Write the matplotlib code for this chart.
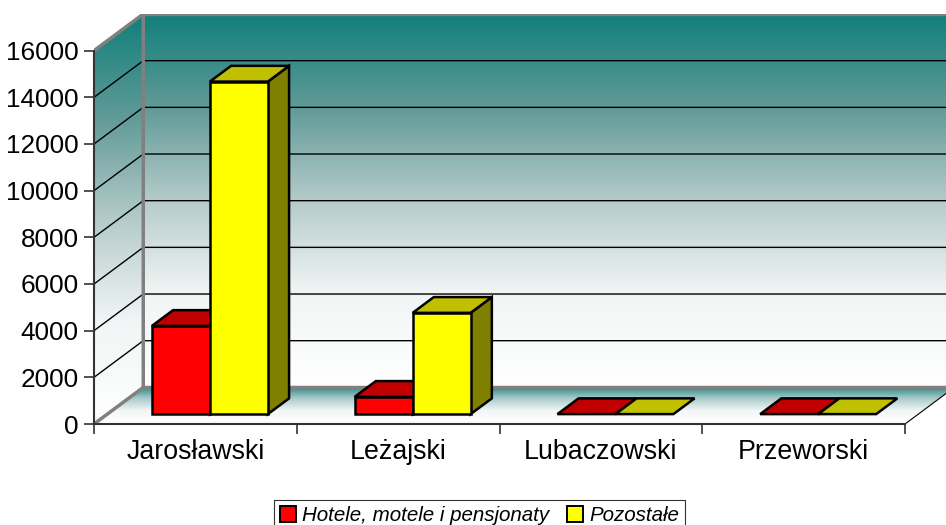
import matplotlib.pyplot as plt
import numpy as np
from matplotlib.patches import Polygon, Patch
from matplotlib.colors import LinearSegmentedColormap

plt.rcParams['font.family'] = ['Liberation Sans', 'DejaVu Sans']

# data
categories = ['Jarosławski', 'Leżajski', 'Lubaczowski', 'Przeworski']
hotele = [3780, 740, 0, 0]
pozostale = [14250, 4340, 0, 0]
series_names = ['Hotele, motele i pensjonaty', 'Pozostałe']
y_ticks = [0, 2000, 4000, 6000, 8000, 10000, 12000, 14000, 16000]

Y_MAX = 16000
D_X = 0.243          # depth offset in category units
D_Y = 1570           # depth offset in value units
Z0, Z1 = 0.27, 0.70  # bar depth (fraction of full depth)
BAR_W = 0.286
BAR_OFF = [0.22, 0.506]

front_cols = ['#FF0000', '#FFFF00']
top_cols = ['#C00000', '#C0C000']
side_cols = ['#800000', '#808000']

fig = plt.figure(figsize=(9.46, 5.25), dpi=100)
ax = fig.add_axes([0.09937, 0.19238, 0.9094, 0.78095])
n = len(categories)
ax.set_xlim(0, n + D_X)
ax.set_ylim(0, Y_MAX + D_Y)

wall_cmap = LinearSegmentedColormap.from_list(
    'wall', [(0, '#FFFFFF'), (0.25, '#F2F5F5'), (0.5, '#B4CBCA'), (0.75, '#609A97'), (1, '#107F7B')])
floor_cmap = LinearSegmentedColormap.from_list(
    'floor', [(0, '#FFFFFF'), (0.35, '#F4F7F7'), (0.7, '#A9CACA'), (1, '#2E8884')])
grad = np.linspace(0, 1, 256).reshape(-1, 1)

# back wall
ax.imshow(grad, cmap=wall_cmap, origin='lower', aspect='auto', interpolation='bilinear',
          extent=(D_X, n + D_X, D_Y, Y_MAX + D_Y), zorder=0)
# side wall
side = Polygon([(0, 0), (D_X, D_Y), (D_X, Y_MAX + D_Y), (0, Y_MAX)], closed=True,
               facecolor='none', edgecolor='none')
ax.add_patch(side)
im = ax.imshow(grad, cmap=wall_cmap, origin='lower', aspect='auto', interpolation='bilinear',
               extent=(0, D_X, 0, Y_MAX + D_Y), zorder=0)
im.set_clip_path(side)
# floor
floor = Polygon([(0, 0), (n, 0), (n + D_X, D_Y), (D_X, D_Y)], closed=True,
                facecolor='none', edgecolor='none')
ax.add_patch(floor)
im = ax.imshow(grad, cmap=floor_cmap, origin='lower', aspect='auto', interpolation='bilinear',
               extent=(0, n + D_X, 0, D_Y), zorder=0)
im.set_clip_path(floor)

# gridlines
for v in y_ticks[1:-1]:
    ax.plot([0, D_X, n + D_X], [v, v + D_Y, v + D_Y], color='black', lw=1.0, zorder=1)
ax.plot([D_X, n + D_X], [Y_MAX + D_Y] * 2, color='#7F7F7F', lw=2.5, zorder=1)
# wall outlines
ax.plot([0, D_X, D_X, 0], [Y_MAX, Y_MAX + D_Y, D_Y, 0], color='#808080', lw=2.5, zorder=1,
        solid_joinstyle='miter')
ax.plot([D_X, n + D_X], [D_Y, D_Y], color='#808080', lw=2.5, zorder=1)
ax.plot([n, n + D_X], [0, D_Y], color='black', lw=0.8, zorder=1, clip_on=False)

# bars
for i in range(n):
    for j, vals in enumerate([hotele, pozostale]):
        v = vals[i]
        x0 = i + BAR_OFF[j]
        x1 = x0 + BAR_W
        fx0, fx1, fy = x0 + Z0 * D_X, x1 + Z0 * D_X, Z0 * D_Y
        bx0, bx1, by = x0 + Z1 * D_X, x1 + Z1 * D_X, Z1 * D_Y
        kw = dict(closed=True, edgecolor='black', lw=1.8, joinstyle='miter', zorder=3 + i * 2 + j)
        if v > 0:
            ax.add_patch(Polygon([(fx1, fy), (bx1, by), (bx1, by + v), (fx1, fy + v)],
                                 facecolor=side_cols[j], **kw))
            ax.add_patch(Polygon([(fx0, fy), (fx1, fy), (fx1, fy + v), (fx0, fy + v)],
                                 facecolor=front_cols[j], **kw))
        ax.add_patch(Polygon([(fx0, fy + v), (fx1, fy + v), (bx1, by + v), (bx0, by + v)],
                             facecolor=top_cols[j], **kw))

# axes
for s in ['top', 'right']:
    ax.spines[s].set_visible(False)
ax.spines['left'].set_bounds(0, Y_MAX)
ax.spines['bottom'].set_bounds(0, n)
for s in ['left', 'bottom']:
    ax.spines[s].set_color('#333333')
    ax.spines[s].set_linewidth(1.5)
    ax.spines[s].set_zorder(20)

ax.set_yticks(y_ticks)
ax.set_yticklabels([str(t) for t in y_ticks], fontsize=18.8)
ax.tick_params(axis='y', length=7, width=1.2, pad=4, color='#333333')
ax.set_xticks(range(n + 1))
ax.set_xticklabels([])
ax.set_xticks([i + 0.5 for i in range(n)], minor=True)
ax.set_xticklabels(categories, minor=True, fontsize=19.3)
ax.tick_params(axis='x', which='major', length=7, width=1.2, color='#333333')
ax.tick_params(axis='x', which='minor', length=0, pad=11)

handles = [Patch(facecolor=front_cols[j], edgecolor='black', lw=1.4, label=series_names[j])
           for j in range(2)]
leg = fig.legend(handles=handles, loc='upper center', bbox_to_anchor=(0.507, 0.0476),
                 ncol=2, frameon=True, fancybox=False, edgecolor='black',
                 prop={'style': 'italic', 'size': 14.8}, handlelength=0.75, handleheight=0.75,
                 handletextpad=0.3, columnspacing=0.9, borderpad=0.3, borderaxespad=0)
leg.get_frame().set_linewidth(0.8)

fig.savefig('out.png', dpi=100)
